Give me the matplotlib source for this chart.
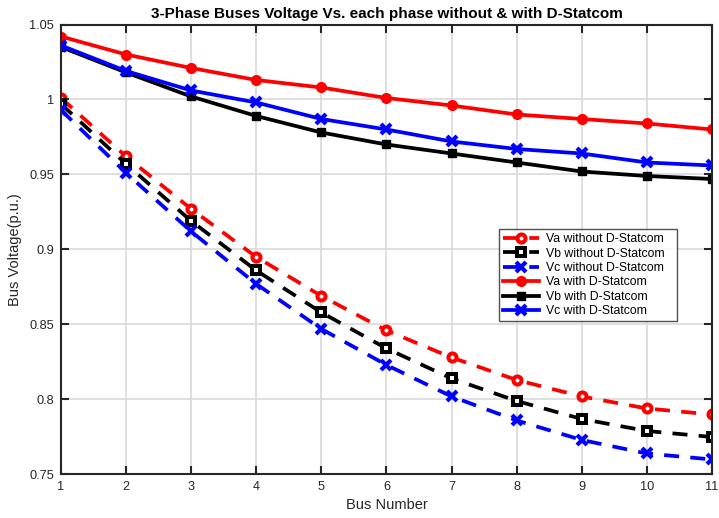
import matplotlib
matplotlib.use("Agg")
import matplotlib.pyplot as plt

bus = [1, 2, 3, 4, 5, 6, 7, 8, 9, 10, 11]
va_without = [1.001, 0.962, 0.927, 0.895, 0.869, 0.846, 0.828, 0.813, 0.802, 0.794, 0.790]
vb_without = [0.997, 0.957, 0.919, 0.886, 0.858, 0.834, 0.814, 0.799, 0.787, 0.779, 0.775]
vc_without = [0.993, 0.951, 0.912, 0.877, 0.847, 0.823, 0.802, 0.786, 0.773, 0.764, 0.760]
va_with = [1.042, 1.030, 1.021, 1.013, 1.008, 1.001, 0.996, 0.990, 0.987, 0.984, 0.980]
vb_with = [1.035, 1.018, 1.002, 0.989, 0.978, 0.970, 0.964, 0.958, 0.952, 0.949, 0.947]
vc_with = [1.036, 1.019, 1.006, 0.998, 0.987, 0.980, 0.972, 0.967, 0.964, 0.958, 0.956]
labels = ["Va without D-Statcom", "Vb without D-Statcom", "Vc without D-Statcom",
          "Va with D-Statcom", "Vb with D-Statcom", "Vc with D-Statcom"]

plt.rcParams['font.family'] = ['Liberation Sans', 'DejaVu Sans']

fig = plt.figure(figsize=(7.19, 5.18), dpi=100)
ax = fig.add_axes([0.0848, 0.084, 0.9055, 0.8687])

lw = 2.7
dash = (4.0, 3.0)
ax.plot(bus, va_without, color='red', lw=lw, dashes=dash, marker='o', ms=5.8,
        mfc='white', mec='red', mew=2.9, label=labels[0])
ax.plot(bus, vb_without, color='black', lw=lw, dashes=dash, marker='s', ms=5.5,
        mfc='white', mec='black', mew=2.9, label=labels[1])
ax.plot(bus, vc_without, color='blue', lw=lw, dashes=dash, marker='x', ms=7,
        mec='blue', mew=3.0, label=labels[2])
ax.plot(bus, va_with, color='red', lw=lw, marker='o', ms=7, mfc='red', mec='red',
        label=labels[3])
ax.plot(bus, vb_with, color='black', lw=lw, marker='s', ms=6, mfc='black', mec='black',
        label=labels[4])
ax.plot(bus, vc_with, color='blue', lw=lw, marker='x', ms=7, mec='blue', mew=3.0,
        label=labels[5])

ax.set_xlim(1, 11)
ax.set_ylim(0.75, 1.05)
ax.set_xticks(bus)
ax.set_yticks([0.75, 0.8, 0.85, 0.9, 0.95, 1.0, 1.05])
ax.set_yticklabels(['0.75', '0.8', '0.85', '0.9', '0.95', '1', '1.05'])
ax.grid(True, color='#dcdcdc', lw=1.3)
ax.set_axisbelow(True)
ax.tick_params(direction='in', length=6, width=1.5, top=True, right=True,
               labelsize=9.2, colors='#262626', pad=5)
for s in ax.spines.values():
    s.set_linewidth(1.5)
    s.set_color('#262626')

ax.set_title("3-Phase Buses Voltage Vs. each phase without & with D-Statcom",
             fontsize=11, fontweight='bold', pad=5)
ax.set_xlabel("Bus Number", fontsize=10.5, color='#262626', labelpad=3)
ax.set_ylabel("Bus Voltage(p.u.)", fontsize=10.5, color='#262626', labelpad=5)

leg = ax.legend(loc='lower left', bbox_to_anchor=(0.673, 0.341, 0.273, 0.198),
                mode='expand', fontsize=8.8, frameon=True, fancybox=False,
                edgecolor='#262626', borderaxespad=0, handlelength=3.0,
                labelspacing=0.2, handletextpad=0.5, borderpad=0.3)
leg.get_frame().set_linewidth(1.0)

fig.savefig("out.png", dpi=100)
